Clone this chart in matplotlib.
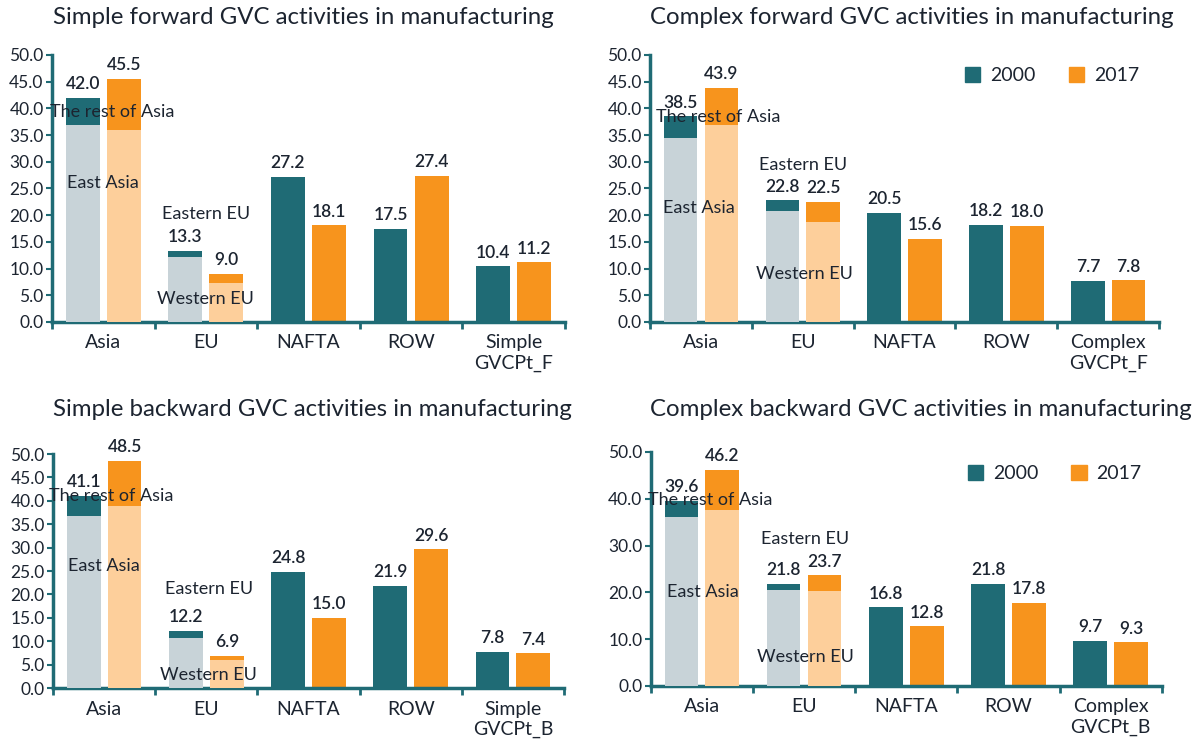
import numpy as np
import matplotlib
matplotlib.use("Agg")
import matplotlib.pyplot as plt
from matplotlib.patches import Patch

plt.rcParams['font.family'] = ['Lato', 'DejaVu Sans']

TEAL = '#1f6b75'
ORANGE = '#f7941d'
GREY = '#c8d3d8'
PEACH = '#fdcf9b'
TXT = '#1c2430'

# Данные по четырём панелям
titles = ["Simple forward GVC activities in manufacturing",
          "Complex forward GVC activities in manufacturing",
          "Simple backward GVC activities in manufacturing",
          "Complex backward GVC activities in manufacturing"]
last_cat = ["Simple\nGVCPt_F", "Complex\nGVCPt_F", "Simple\nGVCPt_B", "Complex\nGVCPt_B"]
base_cats = ["Asia", "EU", "NAFTA", "ROW"]

vals_2000 = [[42.0, 13.3, 27.2, 17.5, 10.4],
             [38.5, 22.8, 20.5, 18.2, 7.7],
             [41.1, 12.2, 24.8, 21.9, 7.8],
             [39.6, 21.8, 16.8, 21.8, 9.7]]
vals_2017 = [[45.5, 9.0, 18.1, 27.4, 11.2],
             [43.9, 22.5, 15.6, 18.0, 7.8],
             [48.5, 6.9, 15.0, 29.6, 7.4],
             [46.2, 23.7, 12.8, 17.8, 9.3]]
# нижняя часть столбцов: East Asia (Asia) и Western EU (EU)
lower_2000 = [[36.8, 12.1], [34.4, 20.8], [36.7, 10.7], [36.1, 20.5]]
lower_2017 = [[35.9, 7.3], [36.8, 18.8], [38.9, 6.0], [37.5, 20.3]]

# положения подписей регионов (x в единицах категорий, y в данных)
sub_labels = ["The rest of Asia", "East Asia", "Eastern EU", "Western EU"]
sub_pos = [[(0.09, 39.4), (0.0, 26.0), (1.0, 20.3), (1.0, 4.3)],
           [(0.17, 38.4), (-0.02, 21.4), (1.0, 29.4), (1.02, 9.0)],
           [(0.07, 41.1), (0.0, 26.1), (1.03, 21.1), (1.02, 2.7)],
           [(0.085, 39.8), (0.01, 20.1), (1.01, 31.4), (1.01, 6.1)]]

yticks = [np.arange(0, 51, 5), np.arange(0, 51, 5), np.arange(0, 51, 5), np.arange(0, 51, 10)]

fig = plt.figure(figsize=(12, 7.45), dpi=100)
rects = [[0.0433, 0.5678, 0.4275, 0.3584],
         [0.5417, 0.5678, 0.4242, 0.3584],
         [0.0442, 0.0765, 0.4258, 0.3141],
         [0.5423, 0.0792, 0.4258, 0.3141]]
title_pos = [(0.044, 0.976), (0.5417, 0.976), (0.044, 0.4497), (0.5417, 0.4497)]
legend_anchor = {1: (0.995, 1.02), 3: (0.995, 1.02)}

w = 0.33
off = 0.2
for i in range(4):
    ax = fig.add_axes(rects[i])
    x = np.arange(5)
    v0 = np.array(vals_2000[i])
    v1 = np.array(vals_2017[i])
    ax.bar(x - off, v0, w, color=TEAL, zorder=2)
    ax.bar(x + off, v1, w, color=ORANGE, zorder=2)
    ax.bar(x[:2] - off, lower_2000[i], w, color=GREY, zorder=3)
    ax.bar(x[:2] + off, lower_2017[i], w, color=PEACH, zorder=3)

    for xx, v in zip(x - off, v0):
        ax.annotate(f"{v:.1f}", (xx, v), xytext=(0, 4), textcoords='offset points',
                    ha='center', va='bottom', fontsize=12.5, color=TXT, fontweight='semibold')
    for xx, v in zip(x + off, v1):
        ax.annotate(f"{v:.1f}", (xx, v), xytext=(0, 4), textcoords='offset points',
                    ha='center', va='bottom', fontsize=12.5, color=TXT, fontweight='semibold')

    for lab, (px, py) in zip(sub_labels, sub_pos[i]):
        ax.text(px, py, lab, ha='center', va='center', fontsize=13, color=TXT, zorder=5)

    ax.set_xlim(-0.5, 4.5)
    ax.set_ylim(0, 50)
    ax.set_yticks(yticks[i])
    ax.set_yticklabels([f"{t:.1f}" for t in yticks[i]])
    ax.set_xticks(x)
    ax.set_xticklabels(base_cats + [last_cat[i]], fontsize=14, color=TXT, linespacing=1.25)
    ax.set_xticks(np.arange(-0.5, 5, 1), minor=True)
    ax.tick_params(axis='x', which='major', length=0, pad=9)
    ax.tick_params(axis='x', which='minor', length=5, width=2, color=TEAL, direction='out')
    ax.tick_params(axis='y', length=4, width=1.5, color=TEAL, labelsize=12.5, labelcolor=TXT, pad=2)
    for s in ['top', 'right']:
        ax.spines[s].set_visible(False)
    for s in ['left', 'bottom']:
        ax.spines[s].set_color(TEAL)
        ax.spines[s].set_linewidth(2.5)

    fig.text(title_pos[i][0], title_pos[i][1], titles[i], fontsize=17.3, color=TXT,
             ha='left', va='center')

    if i in legend_anchor:
        handles = [Patch(color=TEAL, label='2000'), Patch(color=ORANGE, label='2017')]
        ax.legend(handles=handles, ncol=2, frameon=False, loc='upper right',
                  bbox_to_anchor=legend_anchor[i], fontsize=14, handlelength=0.8,
                  handleheight=0.8, columnspacing=1.7, handletextpad=0.5,
                  labelcolor=TXT)

fig.savefig("out.png", dpi=100)
